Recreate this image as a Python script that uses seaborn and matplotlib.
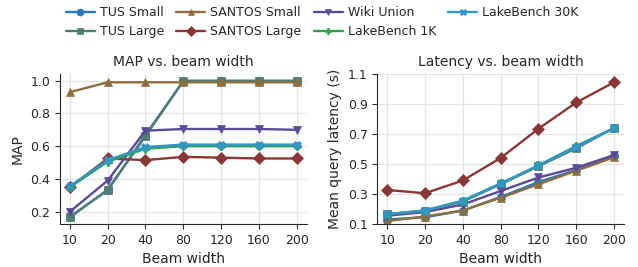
import pandas as pd
import numpy as np
import matplotlib
matplotlib.use("Agg")
import matplotlib.pyplot as plt
import seaborn as sns

beam = ["10", "20", "40", "80", "120", "160", "200"]
methods = ["TUS Small", "TUS Large", "SANTOS Small", "SANTOS Large",
           "Wiki Union", "LakeBench 1K", "LakeBench 30K"]

map_tus_small = [0.17, 0.33, 0.67, 0.995, 0.995, 0.995, 0.995]
map_tus_large = [0.165, 0.335, 0.66, 1.0, 1.0, 1.0, 1.0]
map_santos_small = [0.93, 0.99, 0.99, 0.99, 0.99, 0.99, 0.99]
map_santos_large = [0.35, 0.525, 0.515, 0.535, 0.53, 0.525, 0.525]
map_wiki = [0.20, 0.39, 0.695, 0.705, 0.705, 0.705, 0.70]
map_lb1k = [0.35, 0.505, 0.585, 0.60, 0.60, 0.60, 0.60]
map_lb30k = [0.355, 0.515, 0.595, 0.61, 0.61, 0.61, 0.61]

lat_tus_small = [0.13, 0.145, 0.19, 0.28, 0.38, 0.46, 0.55]
lat_tus_large = [0.165, 0.19, 0.25, 0.365, 0.485, 0.605, 0.74]
lat_santos_small = [0.12, 0.15, 0.19, 0.275, 0.365, 0.455, 0.545]
lat_santos_large = [0.327, 0.305, 0.39, 0.54, 0.735, 0.91, 1.045]
lat_wiki = [0.155, 0.18, 0.23, 0.32, 0.41, 0.475, 0.56]
lat_lb1k = [0.165, 0.19, 0.255, 0.37, 0.49, 0.62, 0.74]
lat_lb30k = [0.165, 0.19, 0.255, 0.37, 0.49, 0.615, 0.74]

map_vals = [map_tus_small, map_tus_large, map_santos_small, map_santos_large,
            map_wiki, map_lb1k, map_lb30k]
lat_vals = [lat_tus_small, lat_tus_large, lat_santos_small, lat_santos_large,
            lat_wiki, lat_lb1k, lat_lb30k]

rows = []
for m, mv, lv in zip(methods, map_vals, lat_vals):
    for b, a, l in zip(beam, mv, lv):
        rows.append({"Method": m, "Beam width": b, "MAP": a, "Latency": l})
df = pd.DataFrame(rows)

palette = {"TUS Small": "#2a78b5", "TUS Large": "#4f7d74",
           "SANTOS Small": "#8e6e3d", "SANTOS Large": "#8a3636",
           "Wiki Union": "#5a4a98", "LakeBench 1K": "#2ba24f",
           "LakeBench 30K": "#3297c8"}
markers = {"TUS Small": "o", "TUS Large": "s", "SANTOS Small": "^",
           "SANTOS Large": "D", "Wiki Union": "v", "LakeBench 1K": "P",
           "LakeBench 30K": "X"}

sns.set_style("ticks")
plt.rcParams["font.family"] = ["DejaVu Sans"]

fig, (ax1, ax2) = plt.subplots(1, 2, figsize=(6.38, 2.67), dpi=100)

for ax, col in [(ax1, "MAP"), (ax2, "Latency")]:
    sns.lineplot(data=df, x="Beam width", y=col, hue="Method", style="Method",
                 hue_order=methods, style_order=methods, palette=palette,
                 markers=markers, dashes=False, sort=False, ax=ax,
                 linewidth=1.7, markersize=6)
    for ln in ax.lines:
        ln.set_markeredgecolor(ln.get_color())
        ln.set_markeredgewidth(0.5)
    ax.grid(True, color="#e3e3e3", linewidth=0.9)
    ax.set_axisbelow(True)
    sns.despine(ax=ax)
    ax.tick_params(labelsize=9)
    ax.set_xlim(-0.26, 6.26)

ax1.set_title("MAP vs. beam width", fontsize=10)
ax1.set_ylabel("MAP", fontsize=10)
ax1.set_xlabel("Beam width", fontsize=10)
ax1.set_yticks([0.2, 0.4, 0.6, 0.8, 1.0])
ax1.set_ylim(0.125, 1.041)

ax2.set_title("Latency vs. beam width", fontsize=10)
ax2.set_ylabel("Mean query latency (s)", fontsize=10)
ax2.set_xlabel("Beam width", fontsize=10)
ax2.set_yticks([0.1, 0.3, 0.5, 0.7, 0.9, 1.1])
ax2.set_ylim(0.1, 1.1)

handles, labels = ax1.get_legend_handles_labels()
for h in handles:
    h.set_markeredgecolor(h.get_color())
    h.set_markeredgewidth(0.5)
    h.set_markersize(5)
    h.set_linewidth(1.7)
ax1.get_legend().remove()
ax2.get_legend().remove()
fig.legend(handles, labels, ncol=4, loc="upper center", bbox_to_anchor=(0.505, 1.02),
           frameon=False, fontsize=9, handlelength=2.3, columnspacing=1.0,
           handletextpad=0.4, labelspacing=0.5)

fig.subplots_adjust(left=0.094, right=0.978, top=0.723, bottom=0.161, wspace=0.287)
fig.savefig("out.png", dpi=100)
